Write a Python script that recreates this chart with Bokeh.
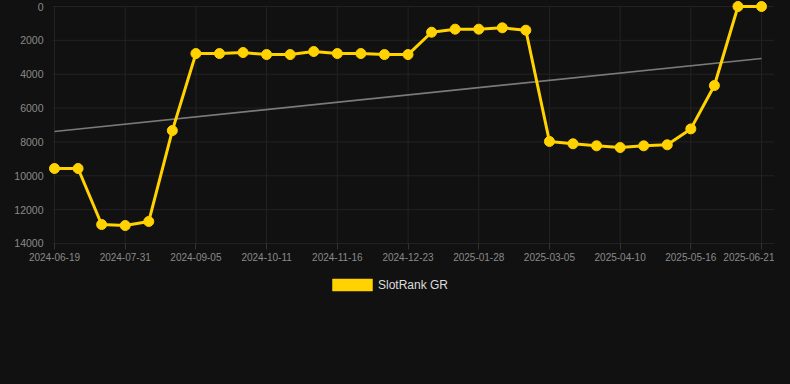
from bokeh.plotting import figure
from bokeh.models import Range1d, FixedTicker, Legend, LegendItem, ColumnDataSource
from bokeh.embed import file_html
from bokeh.resources import INLINE

# ---- data ----
tick_labels = ["2024-06-19", "2024-07-31", "2024-09-05", "2024-10-11", "2024-11-16",
               "2024-12-23", "2025-01-28", "2025-03-05", "2025-04-10", "2025-05-16",
               "2025-06-21"]
point_index = list(range(31))
rank_values = [9570, 9570, 12880, 12940, 12700, 7330,
               2780, 2780, 2720, 2840, 2840, 2660, 2780, 2780, 2840, 2840,
               1520, 1340, 1340, 1260, 1400,
               7970, 8110, 8230, 8330, 8230, 8170,
               7230, 4670, 1, 1]
trend_index = [0, 30]
trend_values = [7380, 3070]
y_ticks = [0, 2000, 4000, 6000, 8000, 10000, 12000, 14000]
series_name = "SlotRank GR"

BG = "#111111"
YELLOW = "#FFD200"
GRID = "#232323"
FONT = "Liberation Sans"

p = figure(width=774, height=368, output_backend="svg", toolbar_location=None,
           x_range=Range1d(-1.273, 30.55), y_range=Range1d(19612, -354),
           background_fill_color=BG, border_fill_color=BG, outline_line_color=None,
           min_border_left=24, min_border_right=0, min_border_top=0, min_border_bottom=30)

tick_idx = list(range(0, 31, 3))

# grid lines (drawn as segments so they start where the reference's do)
p.segment(x0=[-0.085] * len(y_ticks), x1=[31] * len(y_ticks), y0=y_ticks, y1=y_ticks,
          line_color=GRID, line_width=1)
p.segment(x0=tick_idx, x1=tick_idx, y0=[0] * len(tick_idx), y1=[14000] * len(tick_idx),
          line_color=GRID, line_width=1)

src = ColumnDataSource(dict(x=point_index, y=rank_values))
p.line(trend_index, trend_values, line_color="#7a7a7a", line_width=1.6)
p.line("x", "y", source=src, line_color=YELLOW, line_width=3)
p.scatter("x", "y", source=src, size=10, fill_color=YELLOW, line_color=YELLOW)
nan = float("nan")
dummy = p.quad(left=[nan], right=[nan], top=[nan], bottom=[nan],
               fill_color=YELLOW, line_color=YELLOW, line_width=0.5)

# axes
p.xaxis.ticker = FixedTicker(ticks=tick_idx)
p.xaxis.major_label_overrides = {i: lab for i, lab in zip(tick_idx, tick_labels)}
p.xaxis.fixed_location = 14000
p.yaxis.ticker = FixedTicker(ticks=y_ticks)
for ax in (p.xaxis, p.yaxis):
    ax.axis_line_color = None
    ax.minor_tick_line_color = None
    ax.major_tick_in = 0
    ax.major_label_text_font = FONT
    ax.major_label_text_color = "#8a8a8a"
p.xaxis.major_tick_out = 6
p.xaxis.major_tick_line_color = "#333333"
p.xaxis.major_label_text_font_size = "10px"
p.xaxis.major_label_standoff = 4
p.yaxis.major_tick_out = 0
p.yaxis.major_tick_line_color = None
p.yaxis.major_label_text_font_size = "10.5px"
p.yaxis.major_label_standoff = -19

p.xgrid.visible = False
p.ygrid.visible = False

legend = Legend(items=[LegendItem(label=series_name, renderers=[dummy])],
                location=(303, 46), orientation="horizontal",
                glyph_width=50, glyph_height=15, label_standoff=1,
                label_text_font=FONT, label_text_font_size="12px", label_text_color="#dddddd",
                border_line_color=None, background_fill_alpha=0,
                padding=0, margin=0, label_height=12)
p.add_layout(legend)

html = file_html(p, INLINE)
html = html.replace("<head>", "<head><style>html,body{background:#111111;}</style>", 1)
open("out.html", "w").write(html)
